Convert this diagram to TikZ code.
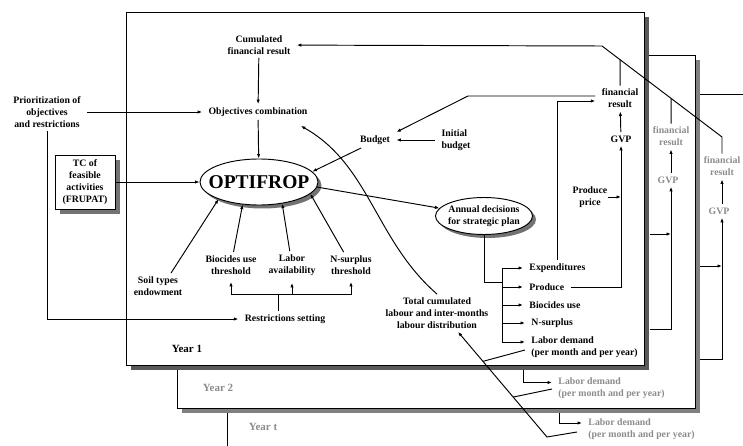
\documentclass[tikz,border=0pt]{standalone}
\usepackage{fontspec}
\setmainfont{Liberation Serif}
\usetikzlibrary{positioning, arrows.meta, calc, shapes.geometric, shadows}

\begin{document}
\begin{tikzpicture}[x=1pt, y=-1pt, line width=0.95pt,
    >={Latex[length=4.5pt,width=3.4pt]},
    lbl/.style={font=\fontsize{9.8}{12}\selectfont\bfseries, align=center, inner xsep=6pt, inner ysep=3pt},
    faded/.style={lbl, text=black!45},
    yearlbl/.style={font=\fontsize{11}{13}\selectfont\bfseries},
    dshadow/.style={drop shadow={shadow xshift=#1, shadow yshift=-#1, fill=black!55, opacity=1}},
    oval/.style={ellipse, draw, fill=white, inner sep=0pt}]

    \useasboundingbox (0,0) rectangle (743,446);

    \draw (743,94) -| (227,446);
    \fill[black!50] (182,60) rectangle (700,413);
    \draw[fill=white] (177,55) rectangle (695,408);
    \fill[black!65] (131,17) rectangle (649,370);
    \draw[fill=white] (126,12) rectangle (644,365);

    \node[yearlbl] (year1) at (187,349) {Year 1};
    \node[yearlbl, text=black!45] (year2) at (218,388) {Year 2};
    \node[yearlbl, text=black!45] (yeart) at (263,427) {Year t};

    \node[lbl] (prio) at (47,112) {Prioritization of\\objectives\\and restrictions};
    \node[lbl, draw, fill=white, minimum width=60pt, minimum height=54pt, inner sep=0pt, dshadow=5pt] (tc) at (85,182) {TC of\\feasible\\activities\\(FRUPAT)};
    \node[lbl] (cumres) at (259,45) {Cumulated\\financial result};
    \node[lbl] (objcomb) at (258,112) {Objectives combination};
    \node[oval, dshadow=3.5pt, minimum width=118pt, minimum height=46pt, inner xsep=-16pt, font=\fontsize{19.5}{20}\selectfont\bfseries] (optifrop) at (259,182) {OPTIFROP};
    \node[lbl] (budget) at (375,140) {Budget};
    \node[lbl, align=left] (initbud) at (456,140) {Initial\\budget};
    \node[lbl, oval, dshadow=3.5pt, minimum width=97pt, minimum height=37pt, inner xsep=-12pt] (annual) at (484,216) {Annual decisions\\for strategic plan};

    \node[lbl] (soil) at (158,286) {Soil types\\endowment};
    \node[lbl] (biocthr) at (231,265) {Biocides use\\threshold};
    \node[lbl] (laborav) at (292,265) {Labor\\availability};
    \node[lbl] (nsurthr) at (351,265) {N-surplus\\threshold};
    \node[lbl] (restr) at (285,319) {Restrictions setting};
    \node[lbl] (totlab) at (437,313) {Total cumulated\\labour and inter-months\\labour distribution};

    \node[lbl, anchor=west] (expend) at (523,268) {Expenditures};
    \node[lbl, anchor=west] (produce) at (523,287) {Produce};
    \node[lbl, anchor=west] (biocuse) at (523,305) {Biocides use};
    \node[lbl, anchor=west] (nsurplus) at (525,323) {N-surplus};
    \node[lbl, anchor=west, align=left] (labdem1) at (525,347.5) {Labor demand\\(per month and per year)};

    \node[lbl] (fin1) at (620,98.5) {financial\\result};
    \node[lbl] (gvp1) at (621,139) {GVP};
    \node[lbl, inner xsep=0.5pt] (price) at (590,197) {Produce\\price};
    \node[faded] (fin2) at (671,136.5) {financial\\result};
    \node[faded] (gvp2) at (668,180) {GVP};
    \node[faded] (fint) at (722,166.5) {financial\\result};
    \node[faded] (gvpt) at (719,211) {GVP};
    \node[faded, anchor=west, align=left] (labdem2) at (552,388) {Labor demand\\(per month and per year)};
    \node[faded, anchor=west, align=left] (labdemt) at (582,429) {Labor demand\\(per month and per year)};

    \coordinate (diagtop) at (602,46);
    \coordinate (diagbot) at (722,137);
    \coordinate (bbend) at (468,96);
    \coordinate (bus) at (502,282);
    \coordinate (rsplit) at (278,294);
    \coordinate (gate2a) at (650,234);
    \coordinate (gate2b) at (650,329);
    \coordinate (gateta) at (700,266);
    \coordinate (gatetb) at (700,359);
    \coordinate (lab2start) at (523,370);
    \coordinate (labtstart) at (559,413);
    \coordinate (labbend) at (547,437);
    \coordinate (ld1) at ($(labdem1.west)+(0,-5.5)$);

    \path[->]
    (prio) edge (objcomb)
    (tc) edge (optifrop)
    (cumres) edge (objcomb)
    (objcomb) edge (optifrop)
    (initbud) edge (budget)
    (budget.210) edge (optifrop.11)
    (optifrop.355) edge (annual.170)
    ([xshift=13pt]soil.north) edge (optifrop.203)
    (biocthr) edge (optifrop.234)
    (laborav) edge (optifrop.317)
    (nsurthr) edge (optifrop.347)
    (gvp1) edge (fin1)
    ;

    \draw[->] (prio) |- (restr);
    \draw (restr.north -| rsplit) -- (rsplit);
    \draw[->, shorten >=4pt] (rsplit) -| (biocthr);
    \draw[->, shorten >=4pt] (rsplit) -| (laborav);
    \draw[->, shorten >=4pt] (rsplit) -| (nsurthr);

    \draw (annual) |- (bus);
    \draw (bus |- expend) -- (bus |- ld1);
    \foreach \n in {expend, produce, biocuse, nsurplus, ld1}
        \draw[->] (bus |- \n) -- (\n);

    \draw[->] (produce) -| (gvp1);
    \draw[->] (price) -- (price -| gvp1);
    \draw[->] (expend) |- ($(fin1.west)+(0,2.5)$);
    \draw[->] ($(fin1.west)+(0,-2.5)$) -- (bbend) -- (budget.north east);

    \draw[->] (fint) -- (diagbot) -- (diagtop) -- (cumres);
    \draw (fin1) -- (intersection of diagtop--diagbot and fin1.north--fin1.south);
    \draw (fin2) -- (intersection of diagtop--diagbot and fin2.north--fin2.south);

    \draw[->] (gvp2.north -| fin2) -- (fin2);
    \draw[->] (gate2a) -- (gate2a -| fin2);
    \draw[->] (gate2b) -| (gvp2.south -| fin2);
    \draw[->] (gvpt.north -| fint) -- (fint);
    \draw[->] (gateta) -- (gateta -| fint);
    \draw[->] (gatetb) -| (gvpt.south -| fint);

    \draw[->] (lab2start) |- ($(labdem2.west)+(0,-5.5)$);
    \draw[->] (labtstart) |- ($(labdemt.west)+(0,-6)$);
    \draw[->] ($(labdemt.west)+(-5,3)$) -- (labbend) -- (totlab.318);
    \draw ($(labdem1.west)+(0,2.5)$) -- ($(labbend)!0.72!(totlab.318)$);
    \draw ($(labdem2.west)+(0,1)$) -- ($(labbend)!0.38!(totlab.318)$);

    \draw[->] (totlab.north) .. controls (375,240) and (370,165) .. ($(objcomb.south east)+(-13,6)$);
\end{tikzpicture}
\end{document}
